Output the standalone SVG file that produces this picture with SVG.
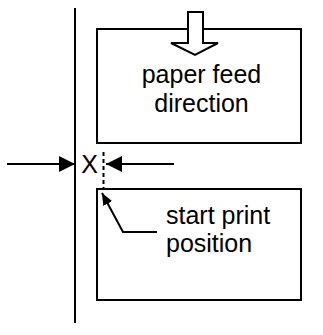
<svg xmlns="http://www.w3.org/2000/svg" width="323" height="335" viewBox="0 0 323 335">
  <style>
    .ln { stroke: #000; stroke-width: 2; fill: none; }
    .box { stroke: #000; stroke-width: 2; fill: #fff; }
    .lbl { font-family: "Liberation Sans", Arial, sans-serif; font-size: 25px; fill: #000; }
  </style>
  <defs>
    <marker id="head" viewBox="0 0 16 16" refX="16" refY="8" markerWidth="16" markerHeight="16" markerUnits="userSpaceOnUse" orient="auto">
      <path d="M0,0 L16,8 L0,16 Z" fill="#000"/>
    </marker>
    <marker id="small" viewBox="0 0 12 10" refX="12" refY="5" markerWidth="12" markerHeight="10" markerUnits="userSpaceOnUse" orient="auto">
      <path d="M0,0 L12,5 L0,10 Z" fill="#000"/>
    </marker>
  </defs>

  <!-- paper edge reference line -->
  <line class="ln" x1="75" y1="8" x2="75" y2="323"/>

  <g id="sheet-1">
    <rect class="box" x="97" y="29" width="204" height="114"/>
    <text class="lbl" x="201.5" y="83" text-anchor="middle">paper feed</text>
    <text class="lbl" x="201.5" y="112" text-anchor="middle">direction</text>
  </g>

  <!-- hollow feed direction arrow -->
  <g id="feed-arrow">
    <path class="box" d="M188,12 L203,12 L203,43 L218,43 L195,55 L171,43 L188,43 Z"/>
  </g>

  <g id="sheet-2">
    <rect class="box" x="97" y="189" width="204" height="111"/>
    <text class="lbl" x="166" y="224">start print</text>
    <text class="lbl" x="166" y="252">position</text>
  </g>

  <g id="connectors">
    <line class="ln" x1="7" y1="164" x2="75" y2="164" marker-end="url(#head)"/>
    <line class="ln" x1="174" y1="164" x2="106" y2="164" marker-end="url(#head)"/>
    <line class="ln" x1="103.5" y1="152" x2="103.5" y2="188" stroke-dasharray="4,3"/>
    <polyline class="ln" points="157,232 123,232 102,193" marker-end="url(#small)"/>
  </g>

  <text class="lbl" x="89.5" y="173" text-anchor="middle">X</text>
</svg>
